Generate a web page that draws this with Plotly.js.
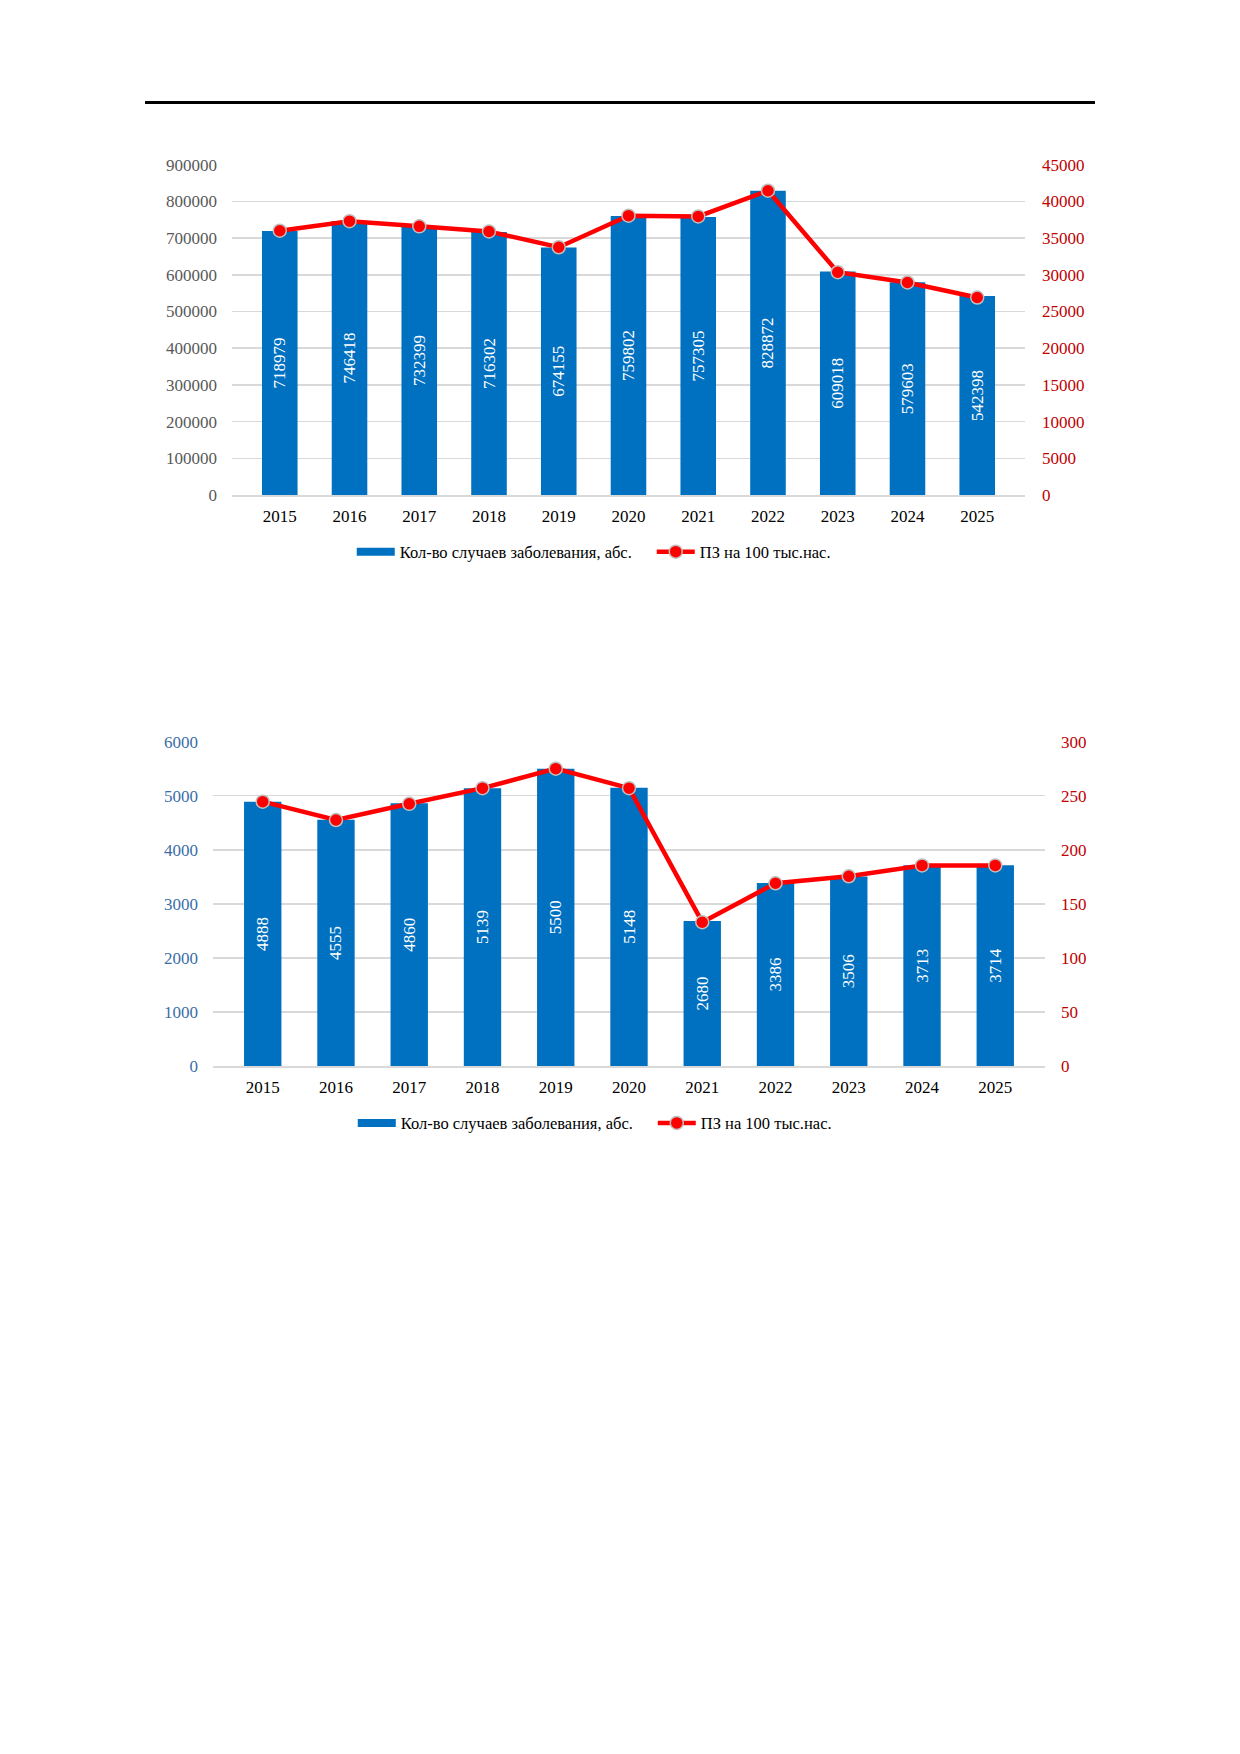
<!DOCTYPE html>
<html>
<head>
<meta charset="utf-8">
<script src="https://cdn.plot.ly/plotly-3.0.1.min.js"></script>
<style>
  body { margin: 0; background: #fff; width: 1240px; height: 1754px; position: relative; }
  .rule { position: absolute; left: 145px; top: 101px; width: 950px; height: 3px; background: #000; z-index: 5; }
  #chart1 { position: absolute; left: 0; top: 0; width: 1240px; height: 600px; }
  #chart2 { position: absolute; left: 0; top: 640px; width: 1240px; height: 520px; }
</style>
</head>
<body>
<div class="rule"></div>
<div id="chart1"></div>
<div id="chart2"></div>
<script>
// years on the x axis (both charts)
var years = ['2015', '2016', '2017', '2018', '2019', '2020', '2021', '2022', '2023', '2024', '2025'];

// chart 1: cases, abs. and rate per 100k
var cases1 = [718979, 746418, 732399, 716302, 674155, 759802, 757305, 828872, 609018, 579603, 542398];
var rate1 = [36000, 37300, 36600, 35900, 33750, 38050, 37950, 41450, 30350, 28950, 26900];

// chart 2
var cases2 = [4888, 4555, 4860, 5139, 5500, 5148, 2680, 3386, 3506, 3713, 3714];
var rate2 = [244.5, 227.5, 242.5, 257, 275, 257, 133, 169, 175.5, 185.5, 185.5];

var barName = 'Кол-во случаев заболевания, абс.';
var lineName = 'ПЗ на 100 тыс.нас.';

var serif = 'Liberation Serif, Times New Roman, serif';
var grid = '#D9D9D9';
var blue = '#0070C0';

function makeChart(div, cases, rate, opts) {
  var bars = {
    x: years,
    y: cases,
    type: 'bar',
    name: barName,
    showlegend: false,
    marker: { color: blue },
    text: cases.map(String),
    textposition: 'inside',
    insidetextanchor: 'middle',
    textangle: -90,
    textfont: { color: '#FFFFFF', size: 17, family: serif },
    cliponaxis: false
  };
  // legend-only entry so the bar swatch is a wide strip like in the original
  var barKey = {
    x: [years[0]],
    y: [null],
    type: 'scatter',
    mode: 'lines',
    name: barName,
    line: { color: blue, width: 8 }
  };
  var line = {
    x: years,
    y: rate,
    yaxis: 'y2',
    type: 'scatter',
    mode: 'lines+markers',
    name: lineName,
    line: { color: '#FF0000', width: 4.5 },
    marker: { color: '#FF0000', size: 13, line: { color: '#BFBFBF', width: 1.5 } },
    cliponaxis: false
  };

  var layout = {
    width: 1240,
    height: opts.height,
    margin: { l: opts.l, r: opts.r, t: opts.t, b: opts.b, autoexpand: false },
    paper_bgcolor: 'rgba(0,0,0,0)',
    plot_bgcolor: 'rgba(0,0,0,0)',
    font: { family: serif, size: 17, color: '#000' },
    bargap: 0.49,
    showlegend: true,
    legend: {
      orientation: 'h',
      x: opts.legendX, xanchor: 'left',
      y: opts.legendY, yanchor: 'middle',
      itemwidth: 38,
      entrywidth: 247,
      font: { family: serif, size: 16.5, color: '#000' },
      traceorder: 'normal'
    },
    xaxis: {
      type: 'category',
      showgrid: false,
      showline: true,
      linecolor: grid,
      linewidth: 1.5,
      ticks: '',
      ticklabelstandoff: 5,
      tickfont: { family: serif, size: 17, color: '#000' }
    },
    yaxis: {
      range: [0, opts.yMax * 1.002],
      tick0: 0,
      dtick: opts.yDtick,
      tickformat: 'd',
      showgrid: true,
      gridcolor: grid,
      gridwidth: 1.5,
      zeroline: false,
      ticks: '',
      ticklabelstandoff: opts.leftStand,
      tickfont: { family: serif, size: 17, color: opts.leftColor }
    },
    yaxis2: {
      overlaying: 'y',
      side: 'right',
      range: [0, opts.y2Max * 1.002],
      tick0: 0,
      dtick: opts.y2Dtick,
      tickformat: 'd',
      showgrid: false,
      zeroline: false,
      ticks: '',
      ticklabelstandoff: opts.rightStand,
      tickfont: { family: serif, size: 17, color: '#C00000' }
    },
    hovermode: false
  };

  Plotly.newPlot(div, [bars, barKey, line], layout, { displayModeBar: false, staticPlot: true });
}

makeChart('chart1', cases1, rate1, {
  height: 600, l: 232, r: 215, t: 164, b: 105,
  legendX: 0.151, legendY: -0.172,
  yMax: 900000, yDtick: 100000, y2Max: 45000, y2Dtick: 5000,
  leftColor: '#595959', leftStand: 14, rightStand: 16
});

makeChart('chart2', cases2, rate2, {
  height: 520, l: 213, r: 195, t: 101, b: 94,
  legendX: 0.168, legendY: -0.176,
  yMax: 6000, yDtick: 1000, y2Max: 300, y2Dtick: 50,
  leftColor: '#3A6EA8', leftStand: 14, rightStand: 15
});
</script>
</body>
</html>
